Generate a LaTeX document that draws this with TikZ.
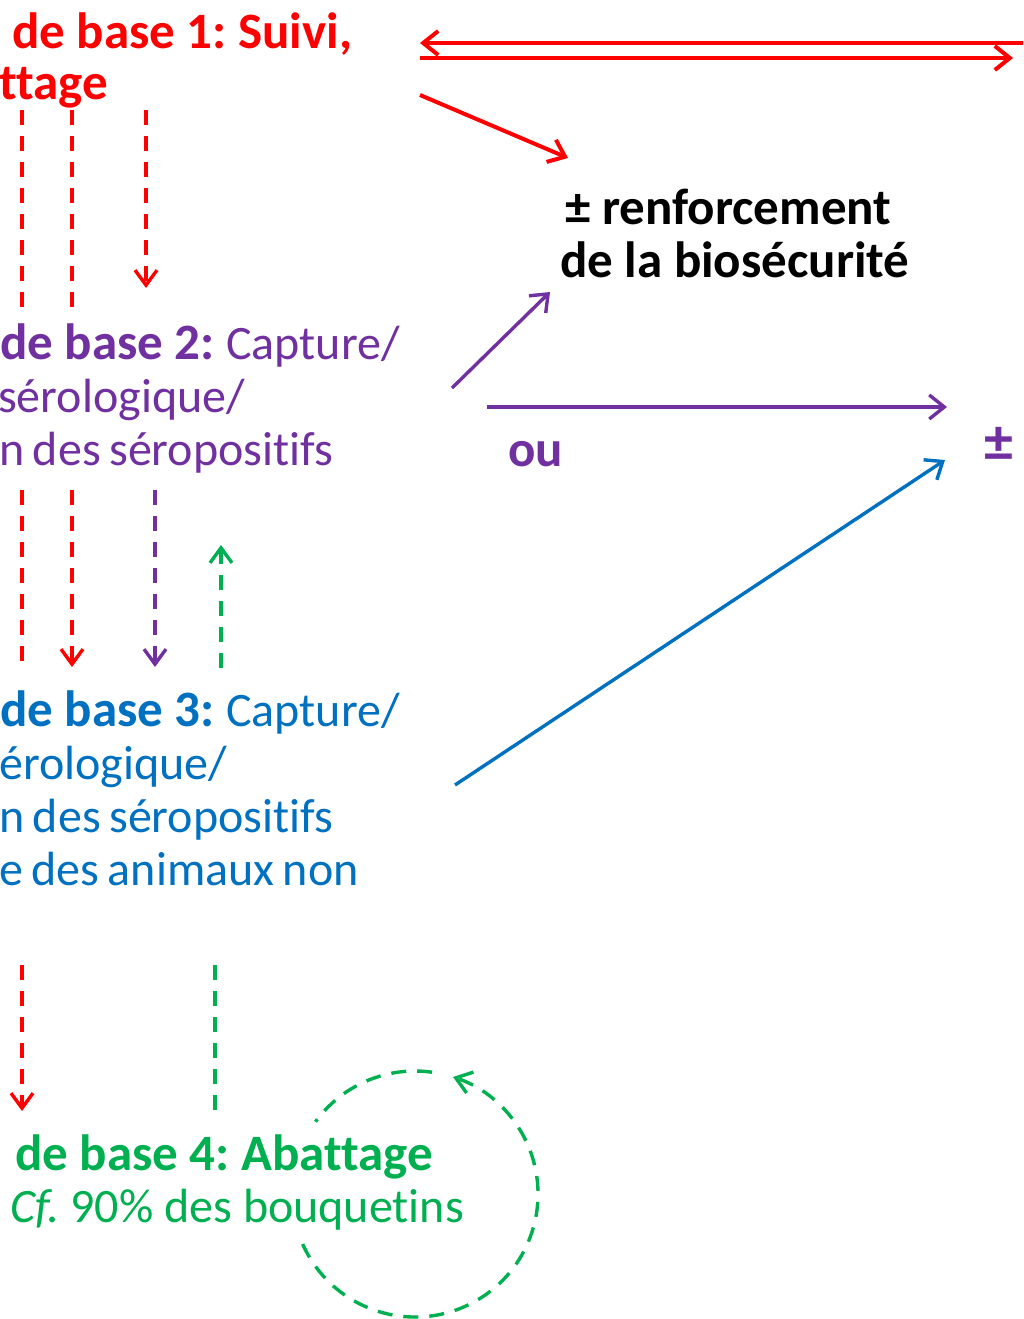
\documentclass[tikz,border=0pt]{standalone}
\usepackage{fontspec}
\setmainfont{Carlito}[Ligatures={NoCommon}]
\usetikzlibrary{arrows.meta}
\definecolor{cred}{HTML}{FF0000}
\definecolor{cpur}{HTML}{7030A0}
\definecolor{cblue}{HTML}{0070C0}
\definecolor{cgreen}{HTML}{00B050}
\frenchspacing
\newcommand\tightsp{\spaceskip=8.5pt plus 2pt\relax}
\newcommand\regfont{\fontsize{48}{48}\selectfont\tightsp}
\newcommand\normfont{\fontsize{48}{48}\selectfont\spaceskip=0pt\relax}
\newcommand\boldfont{\fontsize{51}{51}\selectfont\bfseries\spaceskip=0pt\relax}
\begin{document}
\begin{tikzpicture}[x=1pt,y=-1pt,
  txt/.style={anchor=base west,inner sep=0pt,font=\regfont},
  ntxt/.style={anchor=base west,inner sep=0pt,font=\normfont},
  btxt/.style={anchor=base west,inner sep=0pt,font=\boldfont},
  solidline/.style={line width=4pt},
  tipsolid/.style={-{Straight Barb[length=15pt,width=24pt]}},
  tipback/.style={{Straight Barb[length=15pt,width=24pt]}-},
  dashline/.style={line width=3.4pt,dash pattern=on 15pt off 11pt},
  tipdash/.style={-{Straight Barb[length=15pt,width=22pt]}},
]
\useasboundingbox (0,0) rectangle (1023,1319);
\fill[white] (0,0) rectangle (1023,1319);

% ---- texts
\node[btxt,text=cred] (b1a) at (12,49) {de base 1: Suivi,};
\node[btxt,text=cred] (b1b) at (-1,100) {ttage};

\node[btxt,text=black] (bio1) at (565,224) {± renforcement};
\node[btxt,text=black] (bio2) at (560,277) {de la biosécurité};

\node[txt,text=cpur] (b2a) at (0,359) {{\boldfont de base 2: }Capture/};
\node[txt,text=cpur] (b2b) at (-2,412) {sérologique/};
\node[txt,text=cpur] (b2c) at (-1,465) {n des séropositifs};

\node[btxt,text=cpur] (ou) at (508,466) {ou};
\node[anchor=base west,inner sep=0pt,font=\fontsize{58}{58}\selectfont\bfseries,text=cpur] (pm) at (984,461) {±};

\node[txt,text=cblue] (b3a) at (0,726) {{\boldfont de base 3: }Capture/};
\node[txt,text=cblue] (b3b) at (-1,779) {érologique/};
\node[txt,text=cblue] (b3c) at (-1,832) {n des séropositifs};
\node[txt,text=cblue] (b3d) at (-1,885) {e des animaux non};

\node[btxt,text=cgreen] (b4a) at (15,1170) {de base 4: Abattage};
\node[ntxt,text=cgreen] (b4b) at (10,1222) {\textit{Cf.} 90\% des bouquetins};

% ---- coordinates
\coordinate (dA1) at (420,43);  \coordinate (dA2) at (1023,43);
\coordinate (dB1) at (420,58);  \coordinate (dB2) at (1013,58);
\coordinate (rd1) at (420,95);  \coordinate (rd2) at (568,158);
\coordinate (pd1) at (452,388); \coordinate (pd2) at (550,292);
\coordinate (ph1) at (487,407); \coordinate (ph2) at (947,407);
\coordinate (bl1) at (455,785); \coordinate (bl2) at (945,460);

\coordinate (v1a) at (22,110);  \coordinate (v1b) at (22,308);
\coordinate (v2a) at (72,110);  \coordinate (v2b) at (72,308);
\coordinate (v3a) at (146,110); \coordinate (v3b) at (146,288);

\coordinate (w1a) at (22,490);  \coordinate (w1b) at (22,668);
\coordinate (w2a) at (72,490);  \coordinate (w2b) at (72,667);
\coordinate (w3a) at (155,490); \coordinate (w3b) at (155,667);
\coordinate (w4a) at (221,668); \coordinate (w4b) at (221,545);

\coordinate (u1a) at (22,965);  \coordinate (u1b) at (22,1111);
\coordinate (u2a) at (215,965); \coordinate (u2b) at (215,1112);

\coordinate (cc) at (415,1194);

% ---- solid arrows
\draw[solidline,cred,tipback] (dA1) -- (dA2);
\draw[solidline,cred,tipsolid] (dB1) -- (dB2);
\draw[solidline,cred,tipsolid] (rd1) -- (rd2);
\draw[line width=3.4pt,cpur,tipsolid] (pd1) -- (pd2);
\draw[line width=3.4pt,cpur,tipsolid] (ph1) -- (ph2);
\draw[line width=3.4pt,cblue,tipsolid] (bl1) -- (bl2);

% ---- dashed verticals
\draw[dashline,cred] (v1a) -- (v1b);
\draw[dashline,cred] (v2a) -- (v2b);
\draw[dashline,cred,tipdash] (v3a) -- (v3b);

\draw[dashline,cred] (w1a) -- (w1b);
\draw[dashline,cred,tipdash] (w2a) -- (w2b);
\draw[dashline,cpur,tipdash] (w3a) -- (w3b);
\draw[dashline,cgreen,tipdash] (w4a) -- (w4b);

\draw[dashline,cred,tipdash] (u1a) -- (u1b);
\draw[dashline,cgreen] (u2a) -- (u2b);

% ---- circular arrow
\draw[dashline,cgreen,tipdash] ([shift={(204:123pt)}]cc) arc[start angle=204,end angle=432,radius=123pt];
\draw[dashline,cgreen] ([shift={(82:123pt)}]cc) arc[start angle=82,end angle=144,radius=123pt];
\end{tikzpicture}
\end{document}
